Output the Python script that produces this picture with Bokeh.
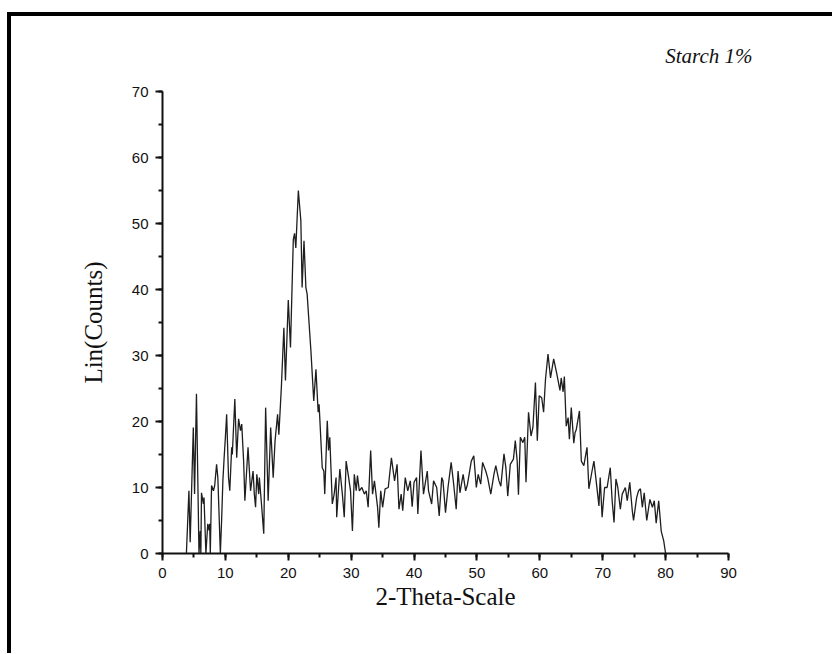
from bokeh.plotting import figure
from bokeh.models import SingleIntervalTicker, Range1d, Title
from bokeh.embed import file_html
from bokeh.resources import INLINE

two_theta = [3.8, 4.2, 4.4, 4.9, 5.1, 5.4, 5.8, 6.0, 6.1, 6.2, 6.5, 6.6, 6.9, 7.2, 7.4, 7.5, 7.6,
             7.8, 8.1, 8.3, 8.6, 8.8, 9.2, 9.4, 9.6, 9.8, 10.0, 10.2, 10.5, 10.7, 11.0, 11.1, 11.5,
             11.8, 12.1, 12.4, 12.6, 12.9, 13.1, 13.6, 14.0, 14.4, 14.6, 14.8, 15.0, 15.3, 15.4,
             15.7, 16.1, 16.4, 16.8, 17.2, 17.6, 17.9, 18.3, 18.5, 18.9, 19.3, 19.55, 20.0, 20.35,
             20.8, 21.0, 21.2, 21.6, 22.0, 22.2, 22.5, 22.8, 23.0, 23.3, 23.6, 24.05, 24.4, 24.75,
             24.9, 25.4, 25.65, 25.8, 26.2, 26.4, 26.6, 27.0, 27.3, 27.6, 27.7, 28.2, 28.6, 28.9,
             29.2, 29.6, 29.9, 30.2, 30.5, 30.8, 31.0, 31.3, 31.7, 32.1, 32.4, 32.7, 33.1, 33.4,
             33.7, 34.2, 34.4, 34.7, 35.0, 35.4, 35.9, 36.4, 36.9, 37.3, 37.6, 37.95, 38.2, 38.6,
             39.0, 39.4, 39.7, 40.0, 40.4, 40.6, 41.1, 41.5, 42.1, 42.3, 42.8, 43.1, 43.6, 44.0,
             44.4, 44.6, 45.0, 45.4, 45.9, 46.3, 46.7, 47.0, 47.3, 47.8, 48.2, 48.5, 49.1, 49.5,
             49.9, 50.2, 50.6, 50.9, 51.4, 51.7, 52.2, 52.7, 53.0, 53.5, 53.8, 54.3, 54.6, 54.9,
             55.3, 55.8, 56.1, 56.4, 56.6, 56.9, 57.3, 57.6, 57.8, 58.2, 58.6, 58.9, 59.3, 59.6,
             59.9, 60.3, 60.6, 60.9, 61.3, 61.7, 62.2, 62.7, 63.2, 63.4, 63.7, 63.9, 64.2, 64.5,
             64.7, 65.0, 65.4, 65.6, 65.8, 66.3, 66.6, 67.0, 67.5, 67.8, 68.3, 68.6, 69.1, 69.4,
             69.6, 69.9, 70.3, 70.7, 71.2, 71.5, 71.8, 72.1, 72.4, 72.8, 73.1, 73.6, 73.9, 74.3,
             74.7, 74.9, 75.4, 75.7, 76.0, 76.3, 76.6, 77.0, 77.5, 77.9, 78.2, 78.5, 78.9, 79.3,
             79.7, 80.0]

counts = [0, 9.5, 1.7, 19.1, 9, 24.2, 0, 3.4, 0, 9.2, 7.5, 8.5, 0, 4.5, 3.5, 4.5, 0,
          10.3, 9.5, 10.3, 13.5, 11.5, 0, 5, 11, 14.5, 17.6, 21.1, 11.5, 9.5, 16.1, 15, 23.4,
          14.5, 20.4, 18.6, 19.6, 14, 8, 16.1, 9.5, 12.5, 9, 7, 12, 9, 11.5,
          8, 3, 22.1, 8, 19.1, 11.5, 17.1, 21.1, 18, 25.2, 34.2, 26.2, 38.4, 31.2,
          47.6, 48.5, 46.3, 55, 50.4, 40.3, 47.4, 40.3, 39.3, 35, 30.7, 23.1, 27.9, 21.4,
          22.6, 13, 12.5, 9, 20.1, 15.6, 17.6, 7.5, 9, 11.5, 5.5, 12.8, 9, 5.5,
          14, 11.5, 9.5, 3.4, 12, 9.5, 11.8, 9.5, 10, 9, 9.5, 7, 15.6, 9,
          11, 7, 3.9, 9.5, 7, 9.8, 10, 14.5, 11, 13.5, 6.7, 9, 6.5, 11.5,
          9.5, 11, 7.1, 10.8, 11.5, 6, 15.6, 9, 12.5, 9.5, 7.5, 11, 10, 5.7,
          11.5, 11, 6.2, 10, 13.8, 10.5, 6.7, 12.5, 9.2, 12, 9.5, 10.5, 14, 14.8,
          10, 12, 10.5, 13.8, 12.5, 11.5, 9, 12, 13.3, 11, 10.2, 15.1, 13, 8.7,
          13.5, 14.3, 17.1, 14, 8.9, 17.6, 16.8, 17.6, 10.8, 21.4, 17.8, 19.1, 25.9, 17.1,
          23.9, 23.6, 21.4, 26.4, 30.2, 26.6, 29.5, 27.2, 24.7, 26.6, 24.5, 26.8, 19.3, 20.6,
          17.3, 22.1, 16.7, 18.3, 18.8, 21.6, 14, 13.3, 16.1, 9.8, 12.5, 14, 9.8, 7.2,
          11.5, 5.5, 10, 10, 13, 8, 4.7, 11.3, 10, 6.7, 9, 10, 8, 10.8,
          6.5, 5, 8.5, 9.5, 9.8, 7, 9.2, 5, 8.2, 7, 8, 4.6, 8, 3.4,
          1.9, 0]

x_ticks_interval = 10
y_ticks_interval = 10

# canvas origin on page is at (11, 16) because of the CSS margin + border below
FRAME_L, FRAME_T, FRAME_W, FRAME_H = 151, 75, 566, 462
CANVAS_W, CANVAS_H = 821, 637

p = figure(output_backend="svg", toolbar_location=None,
           frame_width=FRAME_W, frame_height=FRAME_H,
           min_border_left=FRAME_L, min_border_top=FRAME_T,
           min_border_right=CANVAS_W - FRAME_L - FRAME_W,
           min_border_bottom=CANVAS_H - FRAME_T - FRAME_H,
           x_range=Range1d(0, 90), y_range=Range1d(0, 70))

p.styles = {"margin-left": "7px", "margin-top": "12px",
            "border-left": "4px solid black", "border-top": "4px solid black"}

p.line(two_theta, counts, line_color="#1e1e1e", line_width=1.3)

p.xgrid.visible = False
p.ygrid.visible = False
p.outline_line_color = None
p.background_fill_color = "white"
p.border_fill_color = "white"

p.xaxis.ticker = SingleIntervalTicker(interval=x_ticks_interval, num_minor_ticks=2)
p.yaxis.ticker = SingleIntervalTicker(interval=y_ticks_interval, num_minor_ticks=2)

for ax in (p.xaxis[0], p.yaxis[0]):
    ax.axis_line_width = 2
    ax.axis_line_color = "#111111"
    ax.major_tick_line_width = 2
    ax.major_tick_line_color = "#111111"
    ax.minor_tick_line_width = 2
    ax.minor_tick_line_color = "#111111"
    ax.major_tick_in = 0
    ax.major_tick_out = 7
    ax.minor_tick_in = 0
    ax.minor_tick_out = 4
    ax.major_label_text_font = "Liberation Sans"
    ax.major_label_text_font_size = "15px"
    ax.major_label_text_color = "#111111"
    ax.axis_label_text_font = "Liberation Serif"
    ax.axis_label_text_font_style = "normal"
    ax.axis_label_text_font_size = "25px"
    ax.axis_label_text_color = "#111111"

p.xaxis.axis_label = "2-Theta-Scale"
p.yaxis.axis_label = "Lin(Counts)"
p.xaxis.major_label_standoff = 7
p.yaxis.major_label_standoff = 7
p.xaxis.axis_label_standoff = 2
p.yaxis.axis_label_standoff = 22

p.add_layout(Title(text="Starch 1%", align="right", offset=-24, standoff=48,
                   text_font="Liberation Serif", text_font_style="italic",
                   text_font_size="21px", text_color="#111111"), "above")

open("out.html", "w").write(file_html(p, INLINE))
